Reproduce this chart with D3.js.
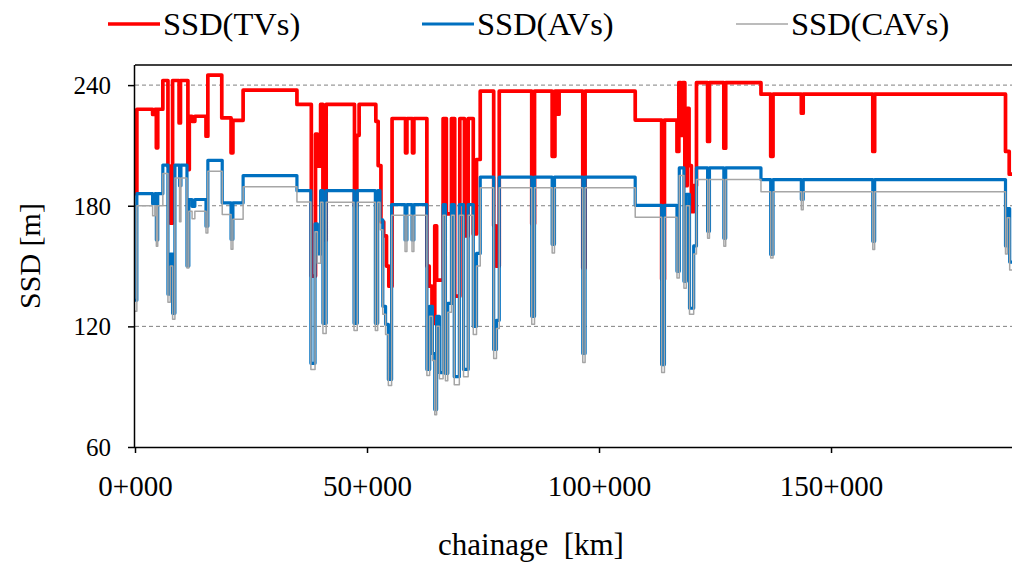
<!DOCTYPE html>
<html><head><meta charset="utf-8">
<script src="https://cdn.jsdelivr.net/npm/d3@7"></script>
<style>html,body{margin:0;padding:0;background:#fff;}svg{display:block;}
svg text{font-family:"Liberation Serif","Times New Roman",serif;}</style>
</head><body>
<svg id="chart" width="1012" height="565"></svg>
<script>
// ---- data (chainage km breakpoints, SSD m values; step-after) ----
const tvsKm  = [0,0.4,3.8,4.3,4.6,4.9,6.0,7.1,7.6,8.1,9.5,9.8,11.4,11.7,12.3,12.9,15.3,15.7,18.7,20.7,21.1,23.3,34.9,38.0,38.9,39.3,40.0,40.5,41.2,47.3,47.8,48.3,51.9,52.4,53.0,53.6,54.2,54.7,55.4,58.3,58.6,59.8,60.1,62.9,63.4,64.0,64.6,65.0,66.4,67.1,68.2,68.9,70.0,71.0,71.8,72.9,73.6,74.4,77.3,77.8,78.5,85.5,86.1,89.9,90.5,91.1,91.4,96.5,97.0,107.8,113.5,114.1,116.8,117.2,117.7,118.0,118.5,119.0,119.4,119.9,120.4,121.0,123.4,123.8,126.9,127.3,134.9,137.0,137.5,143.6,144.0,159.0,159.4,187.6,188.4,189];
const tvsVal = [186,228,225.4,228,208.8,228,242.3,199.7,171.4,242.3,221.2,242.3,198,224.5,222,224.5,214.6,245,223.7,206.3,222.5,237.5,230.4,145,215.6,199.7,230.4,163,230.4,180,215,230.4,222,200,172,165,150,140,223.4,206.3,223.4,206.3,223.4,150,140,121.5,170,143,223.4,176,223.4,135,223.4,165,223.4,166,203,237,170,150,237,171,237,204.6,237,225.5,237,149,237,222.6,143.4,222.6,207,241.2,215,241.2,190,228.5,200,177,190,241.2,212,241.2,208.6,241.2,235.5,204.6,235.5,226,235.5,207,235.5,207,195.7,195.7];

const avsKm  = [0,0.4,3.8,4.3,4.6,4.9,6.0,7.1,7.6,8.1,8.6,9.6,9.9,11.2,11.6,12.3,12.9,15.3,15.7,18.8,20.7,21.1,23.3,34.9,37.9,38.8,39.3,40.0,40.5,41.2,47.2,47.9,51.8,52.3,52.8,53.4,54.0,54.6,55.3,58.2,58.6,59.7,60.1,62.9,63.5,64.1,64.6,65.0,65.6,66.4,66.9,67.4,68.2,68.8,69.9,70.8,71.8,72.9,73.6,74.4,77.3,77.9,78.5,85.5,86.1,89.9,90.4,96.5,97.0,107.8,113.5,114.1,116.8,117.3,118.3,118.8,119.5,120.4,121.0,123.4,123.8,126.9,127.3,134.9,137.0,137.5,143.6,144.0,159.0,159.4,187.6,188.0,188.5,189];
const avsVal = [133,186,181,186,163,186,200.2,136,156,126.5,200.2,190,200.2,150,183.1,179.7,183.1,169.8,202.6,181.4,163.3,181.4,195,187.5,101.6,171,156,187.5,121.5,187.5,121.5,187.5,121.5,187.5,173,130,121,93.6,180.6,163,180.6,163,180.6,98.6,130,106.5,78.6,125,97,180.6,96.6,131.4,180.6,95,180.6,98.6,180.6,120,156.3,194.2,108.5,123,194.2,125,194.2,160.8,194.2,106.5,194.2,180.2,101,180.2,147.4,198.8,142.4,185.7,129,160,198.8,167.3,198.8,163.8,198.8,193,155.8,193,183.1,193,162.3,193,160,178.6,152,152];

const cavsKm  = avsKm;
const cavsVal = [127.5,180,175,180,159.8,180,196,132,150,123.5,193.8,172,193.8,149,177.3,173.5,177.3,166.5,197.2,175.6,158.3,173.3,189.4,181.9,98.6,167,151.4,181.7,116.5,181.7,118,181.7,118,181.7,168,126,116,90.6,175.3,157.3,175.3,157.3,175.3,95.6,125,103,76,120,94,175.3,93,127,175.3,91,175.3,95,175.3,116,150,188.9,104,119,188.9,121,188.9,156.5,188.9,102,188.9,174.3,97,174.3,144,195,139,180,126,156,193,163.8,193,159.8,193,186.9,154,186.9,178,186.9,158.2,186.9,156,174,148,148];

const yTicks = [60,120,180,240];
const xTicks = [0,50,100,150];
const xTickLabels = ["0+000","50+000","100+000","150+000"];
const seriesNames = ["SSD(TVs)","SSD(AVs)","SSD(CAVs)"];
const seriesColors = ["#FF0000","#0070C0","#A6A6A6"];

// ---- layout ----
const svg = d3.select("#chart");
const L = 135, R = 1012, T = 65, B = 447;
const x = d3.scaleLinear().domain([0,189]).range([L,R]);
const y = d3.scaleLinear().domain([60,250]).range([B,T]);

// grid
svg.append("g").selectAll("line").data(yTicks.filter(d=>d>60)).join("line")
  .attr("x1",L).attr("x2",R).attr("y1",d=>y(d)).attr("y2",d=>y(d))
  .attr("stroke","#808080").attr("stroke-width",1).attr("stroke-dasharray","4,3");

svg.append("defs").append("clipPath").attr("id","clip")
  .append("rect").attr("x",L).attr("y",T).attr("width",R-L).attr("height",B-T);

const line = d3.line().x(d=>x(d[0])).y(d=>y(d[1])).curve(d3.curveStepAfter);
const series = [
  {km:tvsKm, val:tvsVal, w:3.7},
  {km:avsKm, val:avsVal, w:3.2},
  {km:cavsKm, val:cavsVal, w:1.5}
];
const gLines = svg.append("g").attr("clip-path","url(#clip)");
series.forEach((s,i)=>{
  const pts = s.km.map((k,j)=>[k,s.val[j]]);
  gLines.append("path").attr("d",line(pts)).attr("fill","none")
    .attr("stroke",seriesColors[i]).attr("stroke-width",s.w)
    .attr("stroke-linejoin","round");
});

// axes
const yAxis = d3.axisLeft(y).tickValues(yTicks).tickSize(7).tickFormat(d3.format("d"));
const gy = svg.append("g").attr("transform",`translate(${L},0)`).call(yAxis);
gy.attr("font-family",null);
gy.select(".domain").attr("d",`M-0.5,${B}V${T}`).attr("stroke","#000").attr("stroke-width",1.5);
gy.selectAll(".tick line").attr("stroke","#000").attr("stroke-width",1.5);
gy.selectAll(".tick text").attr("font-size",25).attr("fill","#000").attr("x",-24).attr("dy","0.34em");

const xAxis = d3.axisBottom(x).tickValues(xTicks).tickSize(6).tickFormat((d,i)=>xTickLabels[i]);
const gx = svg.append("g").attr("transform",`translate(0,${B})`).call(xAxis);
gx.attr("font-family",null);
gx.select(".domain").attr("d",`M${L},0.5H${R}`).attr("stroke","#000").attr("stroke-width",1.5);
gx.selectAll(".tick line").attr("stroke","#000").attr("stroke-width",1.5);
gx.selectAll(".tick text").attr("font-size",29).attr("fill","#000").attr("y",28).attr("dy","0.71em");

// top border
svg.append("line").attr("x1",L).attr("x2",R).attr("y1",T).attr("y2",T).attr("stroke","#000").attr("stroke-width",1.5);

// axis titles
svg.append("text").attr("x",531).attr("y",555).attr("text-anchor","middle")
  .attr("font-size",31).attr("xml:space","preserve").text("chainage  [km]");
svg.append("text").attr("transform","translate(40,256) rotate(-90)").attr("text-anchor","middle")
  .attr("font-size",30).text("SSD [m]");

// legend
const legX = [108,422,736];
seriesNames.forEach((n,i)=>{
  svg.append("line").attr("x1",legX[i]).attr("x2",legX[i]+52).attr("y1",24).attr("y2",24)
    .attr("stroke",seriesColors[i]).attr("stroke-width",series[i].w);
  svg.append("text").attr("x",legX[i]+55).attr("y",35)
    .attr("font-size",32.5).text(n);
});
</script>
</body></html>
